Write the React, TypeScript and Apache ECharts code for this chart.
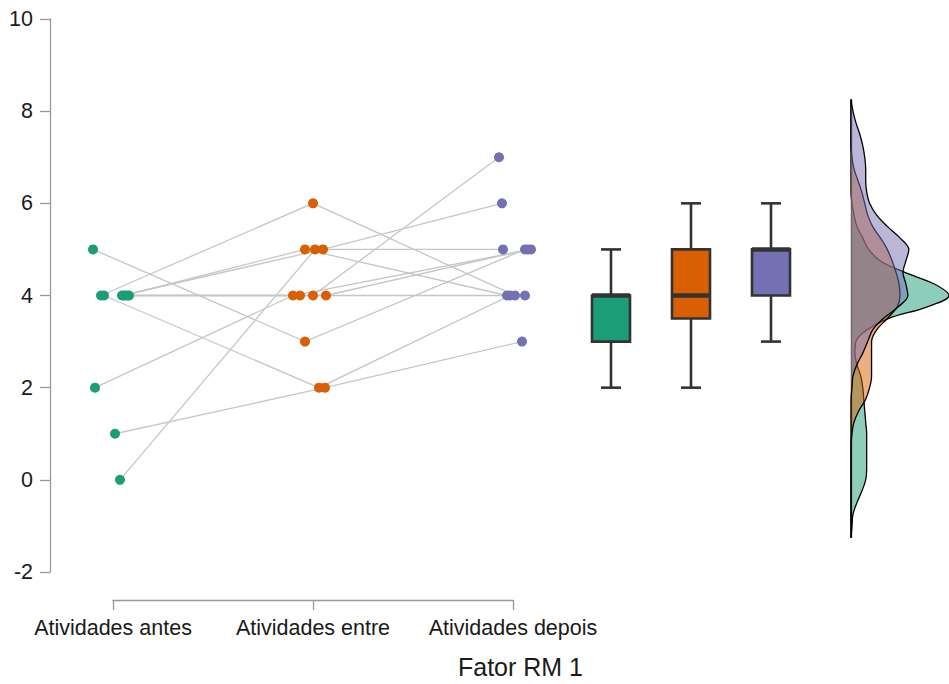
import React, { useEffect, useRef } from "react";
import * as echarts from "echarts";

// ---- data ----
const groups = ["Atividades antes", "Atividades entre", "Atividades depois"];
const groupColors = ["#1b9e77", "#d95f02", "#7570b3"];
const axisTitle = "Fator RM 1";

// one value per subject (11 subjects), same order in each array
const antes = [5, 4, 4, 1, 0, 4, 4, 4, 4, 4, 2];
const entre = [3, 6, 2, 2, 5, 5, 5, 4, 4, 4, 4];
const depois = [5, 4, 4, 3, 5, 6, 4, 7, 5, 4, 5];
// horizontal jitter of each dot (in category units)
const jitterAntes = [-0.1, -0.06, -0.045, 0.01, 0.035, 0.045, 0.055, 0.065, 0.075, 0.08, -0.09];
const jitterEntre = [-0.04, 0, 0.03, 0.06, 0.01, 0.05, -0.04, 0, 0.065, -0.065, -0.1];
const jitterDepois = [0.06, 0.01, -0.015, 0.045, -0.05, -0.055, -0.03, -0.07, 0.075, 0.06, 0.09];

// boxplot: [lower whisker, Q1, median, Q3, upper whisker]
const boxAntes = [2, 3, 4, 4, 5];
const boxEntre = [2, 3.5, 4, 5, 6];
const boxDepois = [3, 4, 5, 5, 6];

// density curves (relative width) at each value of densityY
const densityY = [
  -1.25, -1, -0.75, -0.5, -0.25, 0, 0.25, 0.5, 0.75, 1, 1.25, 1.5, 1.75, 2, 2.25, 2.5, 2.75, 3, 3.25,
  3.5, 3.75, 4, 4.25, 4.5, 4.75, 5, 5.25, 5.5, 5.75, 6, 6.25, 6.5, 6.75, 7, 7.25, 7.5, 7.75, 8, 8.25,
];
const densAntes = [
  0, 1, 2, 6, 11, 15, 16, 16, 16, 16, 15, 14, 13, 12, 10, 6, 4, 5, 16, 38, 77, 100, 85, 55, 30, 18,
  12, 6, 3, 1, 0, 0, 0, 0, 0, 0, 0, 0, 0,
];
const densEntre = [
  0, 0, 0, 0, 0, 0, 0, 0, 0, 1, 3, 8, 15, 19, 21, 21, 21, 21, 26, 37, 47, 50, 49, 46, 42, 37, 30, 22,
  17, 14, 11, 7, 3, 1, 0, 0, 0, 0, 0,
];
const densDepois = [
  0, 0, 0, 0, 0, 0, 0, 0, 0, 0, 0, 0, 0, 1, 2, 6, 12, 17, 22, 33, 48, 58, 56, 53, 56, 59, 50, 37, 26,
  19, 16, 15, 15, 14, 12, 9, 5, 2, 0,
];

const yMin = -2;
const yMax = 10;
const yStep = 2;

export default function App() {
  const ref = useRef<HTMLDivElement>(null);

  useEffect(() => {
    if (!ref.current) return;
    const chart = echarts.init(ref.current, undefined, { renderer: "svg" });

    const FONT = "Liberation Sans, Arial, Helvetica, sans-serif";
    const axisGray = "#999999";
    const textColor = "#1a1a1a";

    // layout of the value scale (shared by the three panels)
    const top = 19;
    const height = 553;
    const yToPx = (v: number) => top + ((yMax - v) / (yMax - yMin)) * height;
    const dTop = yToPx(densityY[densityY.length - 1]);
    const dBottom = yToPx(densityY[0]);

    const subjects = antes.map((_, i) => i);
    const pathSeries = {
      type: "custom",
      xAxisIndex: 0,
      yAxisIndex: 0,
      silent: true,
      clip: false,
      z: 1,
      encode: { x: [0, 2, 4], y: [1, 3, 5] },
      data: subjects.map((i) => [
        0 + jitterAntes[i],
        antes[i],
        1 + jitterEntre[i],
        entre[i],
        2 + jitterDepois[i],
        depois[i],
      ]),
      renderItem: (params: any, api: any) => ({
        type: "polyline",
        shape: {
          points: [
            api.coord([api.value(0), api.value(1)]),
            api.coord([api.value(2), api.value(3)]),
            api.coord([api.value(4), api.value(5)]),
          ],
        },
        style: { stroke: "#c6c6c6", lineWidth: 1.3, fill: null },
      }),
    };

    const groupValues = [antes, entre, depois];
    const groupJitter = [jitterAntes, jitterEntre, jitterDepois];
    const scatterSeries = groupValues.map((vals, g) => ({
      type: "scatter",
      xAxisIndex: 0,
      yAxisIndex: 0,
      data: vals.map((v, i) => [g + groupJitter[g][i], v]),
      symbol: "circle",
      symbolSize: 10,
      clip: false,
      silent: true,
      z: 3,
      itemStyle: { color: groupColors[g], opacity: 1 },
    }));

    const boxes = [boxAntes, boxEntre, boxDepois];
    const boxSeries = {
      type: "custom",
      xAxisIndex: 1,
      yAxisIndex: 1,
      silent: true,
      encode: { x: 0, y: [1, 2, 3, 4, 5] },
      data: boxes.map((b, i) => [i, ...b]),
      renderItem: (params: any, api: any) => {
        const i = api.value(0);
        const lo = api.coord([i, api.value(1)]);
        const q1 = api.coord([i, api.value(2)]);
        const med = api.coord([i, api.value(3)]);
        const q3 = api.coord([i, api.value(4)]);
        const hi = api.coord([i, api.value(5)]);
        const cx = lo[0];
        const bw = 38;
        const cw = 20;
        const stroke = "#333333";
        const lw = 2.6;
        return {
          type: "group",
          children: [
            { type: "line", shape: { x1: cx, y1: hi[1], x2: cx, y2: q3[1] }, style: { stroke, lineWidth: lw } },
            { type: "line", shape: { x1: cx, y1: q1[1], x2: cx, y2: lo[1] }, style: { stroke, lineWidth: lw } },
            { type: "line", shape: { x1: cx - cw / 2, y1: hi[1], x2: cx + cw / 2, y2: hi[1] }, style: { stroke, lineWidth: lw } },
            { type: "line", shape: { x1: cx - cw / 2, y1: lo[1], x2: cx + cw / 2, y2: lo[1] }, style: { stroke, lineWidth: lw } },
            {
              type: "rect",
              shape: { x: cx - bw / 2, y: q3[1], width: bw, height: q1[1] - q3[1] },
              style: { fill: groupColors[i], stroke, lineWidth: lw },
            },
            { type: "line", shape: { x1: cx - bw / 2, y1: med[1], x2: cx + bw / 2, y2: med[1] }, style: { stroke, lineWidth: 4.5 } },
          ],
        };
      },
    };

    const dens = [densAntes, densEntre, densDepois];
    const densSeries = dens.map((d, g) => ({
      type: "line",
      xAxisIndex: 2,
      yAxisIndex: 2,
      data: d.map((w, i) => [w, i]),
      symbol: "none",
      smooth: 0.35,
      silent: true,
      z: 2 + g,
      lineStyle: { color: "#000000", width: 1.3 },
      areaStyle: { color: groupColors[g], opacity: 0.5 },
    }));

    const option: any = {
      animation: false,
      textStyle: { fontFamily: FONT },
      grid: [
        { left: 113, width: 400, top, height },
        { left: 611, width: 160, top, height },
        { left: 851, width: 100, top: dTop, height: dBottom - dTop },
      ],
      xAxis: [
        {
          gridIndex: 0,
          type: "value",
          min: 0,
          max: 2,
          interval: 1,
          offset: 28,
          splitLine: { show: false },
          axisLine: { show: true, onZero: false, lineStyle: { color: axisGray, width: 1.3 } },
          axisTick: { show: true, length: 10, lineStyle: { color: axisGray, width: 1.3 } },
          axisLabel: {
            show: true,
            margin: 17,
            fontSize: 21.5,
            fontFamily: FONT,
            color: textColor,
            formatter: (v: number) => groups[Math.round(v)] ?? "",
          },
        },
        { gridIndex: 1, type: "value", min: 0, max: 2, show: false },
        { gridIndex: 2, type: "value", min: 0, max: 100, show: false },
      ],
      yAxis: [
        {
          gridIndex: 0,
          type: "value",
          min: yMin,
          max: yMax,
          interval: yStep,
          offset: 63,
          splitLine: { show: false },
          axisLine: { show: true, onZero: false, lineStyle: { color: axisGray, width: 1.3 } },
          axisTick: { show: true, length: 10, lineStyle: { color: axisGray, width: 1.3 } },
          axisLabel: { show: true, margin: 17, fontSize: 21.5, fontFamily: FONT, color: textColor },
        },
        { gridIndex: 1, type: "value", min: yMin, max: yMax, show: false },
        {
          gridIndex: 2,
          type: "category",
          data: densityY.map(String),
          boundaryGap: false,
          axisLine: { show: true, onZero: false, lineStyle: { color: "#000000", width: 1.3 } },
          axisTick: { show: false },
          axisLabel: { show: false },
          splitLine: { show: false },
        },
      ],
      graphic: [
        {
          type: "text",
          x: 520.5,
          y: 667,
          silent: true,
          style: {
            text: axisTitle,
            fontSize: 25,
            fontFamily: FONT,
            fill: textColor,
            align: "center",
            verticalAlign: "middle",
          },
        },
      ],
      series: [pathSeries, ...scatterSeries, boxSeries, ...densSeries],
    };

    chart.setOption(option);
    return () => chart.dispose();
  }, []);

  return (
    <div
      ref={ref}
      style={{ position: "absolute", left: 0, top: 0, width: 949, height: 684, background: "#ffffff" }}
    />
  );
}
